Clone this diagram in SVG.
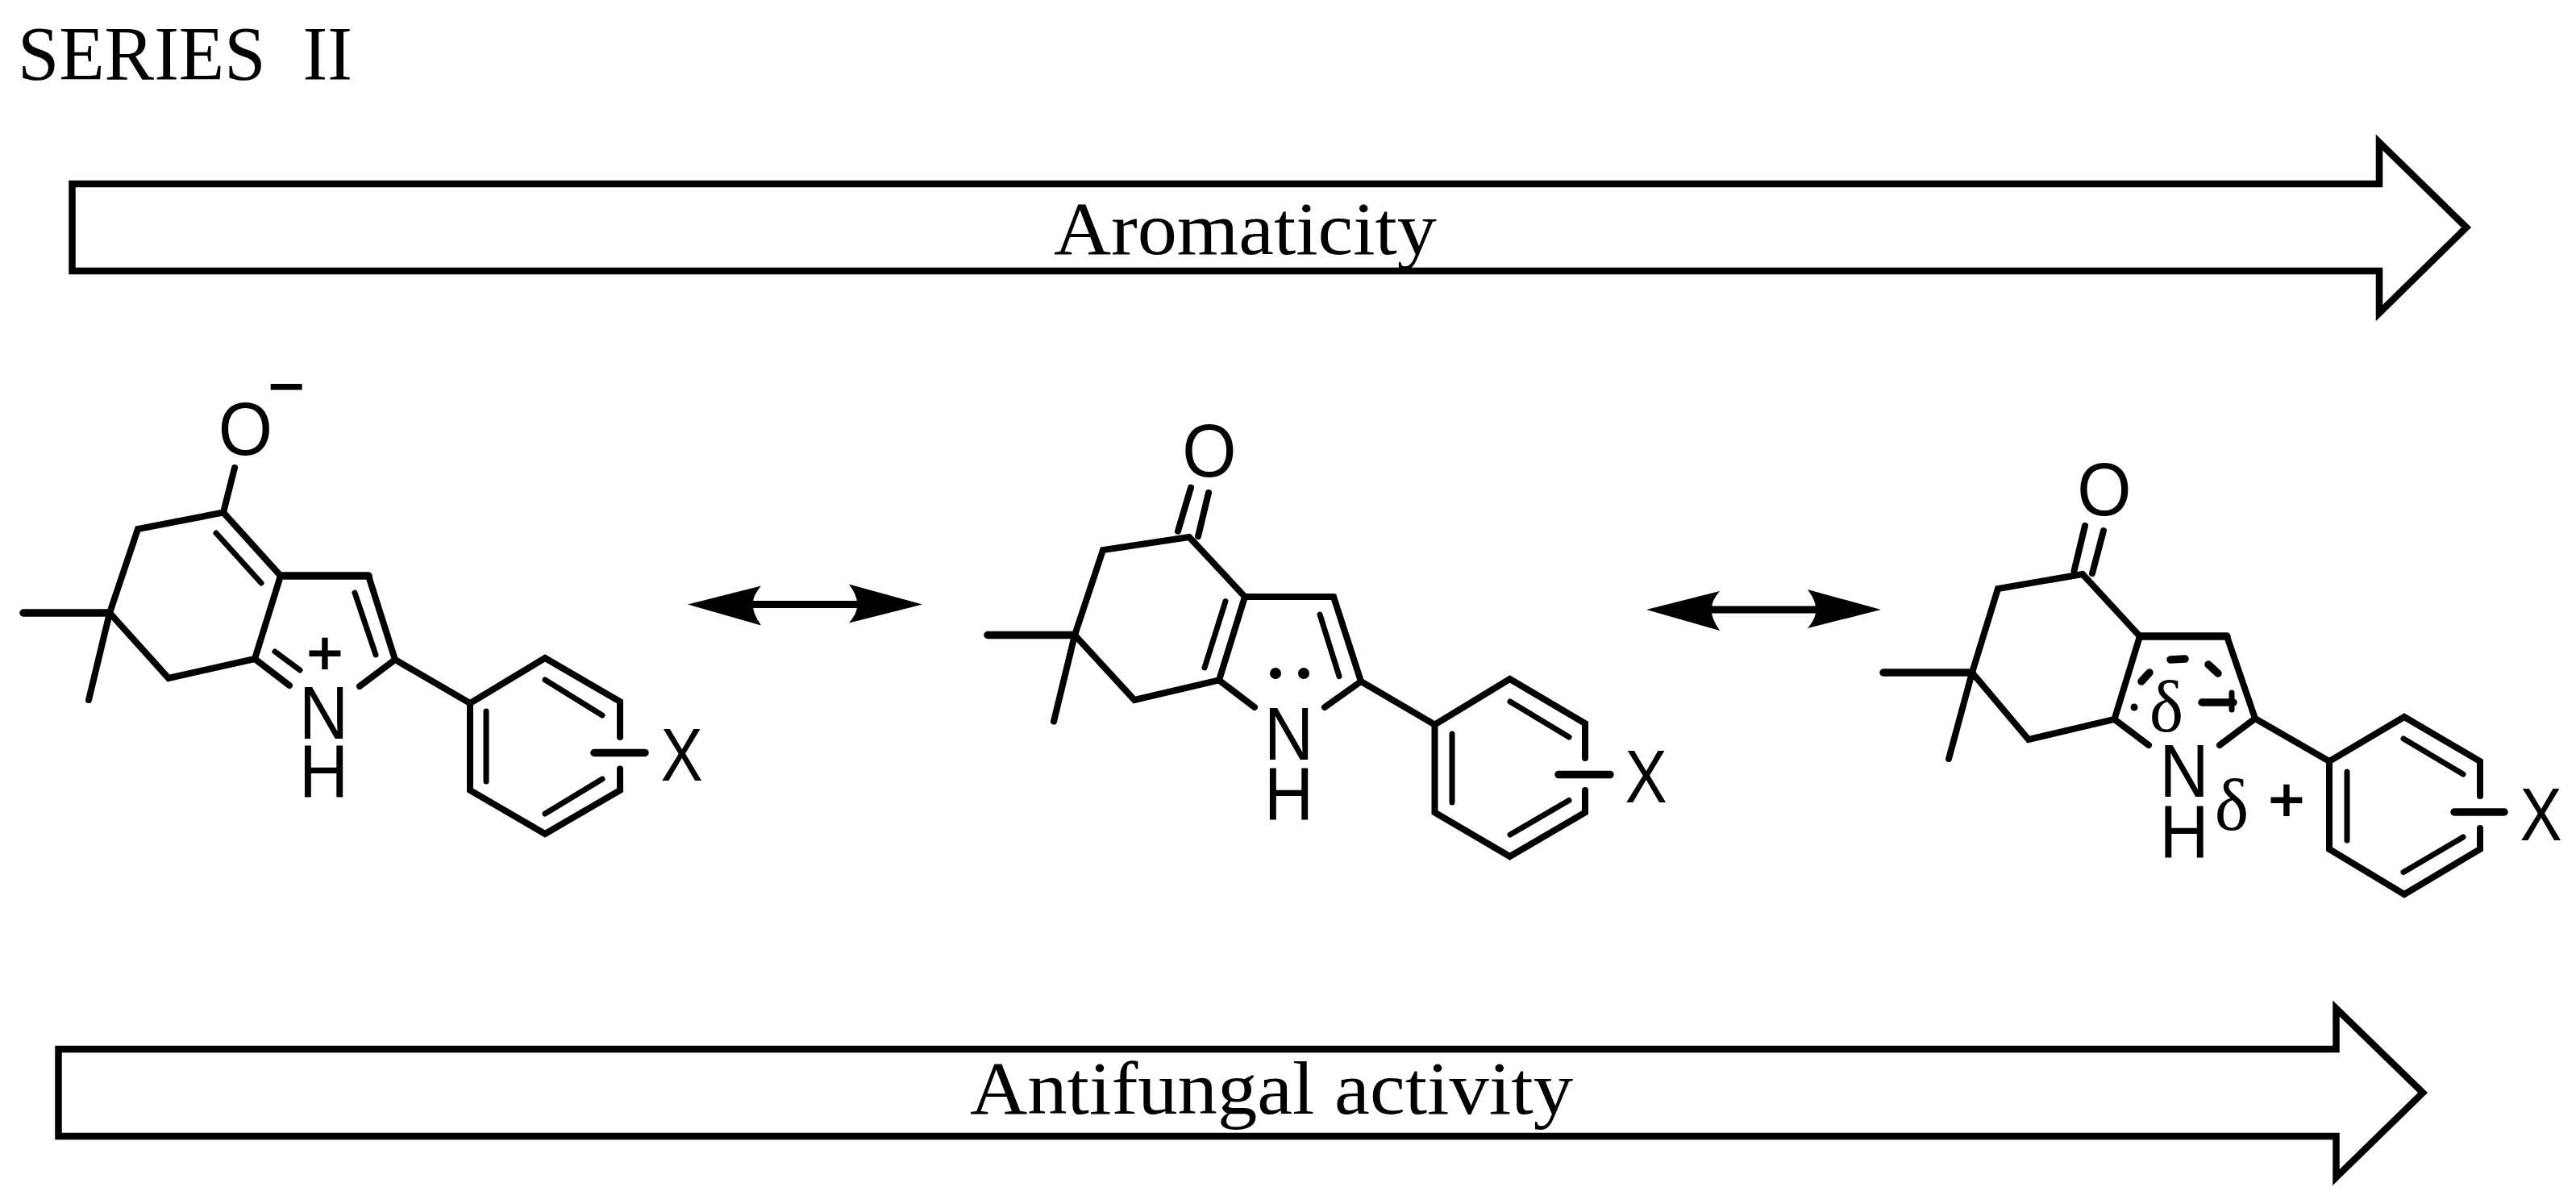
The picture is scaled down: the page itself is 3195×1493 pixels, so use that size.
<svg xmlns="http://www.w3.org/2000/svg" width="3195" height="1493" viewBox="0 0 3195 1493">
<style>
.bg{fill:#fff}
.block{fill:#fff;stroke:#000;stroke-width:8.5;stroke-linejoin:miter;stroke-miterlimit:10}
.b{fill:none;stroke:#000;stroke-width:8;stroke-linecap:round;stroke-linejoin:miter;stroke-miterlimit:4}
.h{fill:none;stroke:#000;stroke-width:9.500;stroke-linecap:round;stroke-linejoin:miter}
.i{fill:none;stroke:#000;stroke-width:7;stroke-linecap:round}
.serif{font-family:"Liberation Serif","Times New Roman",serif;fill:#000;white-space:pre}
.sans{font-family:"Liberation Sans",Arial,sans-serif;font-size:92px;fill:#000;text-anchor:middle}
.chg{font-family:"Liberation Sans",Arial,sans-serif;font-size:76px;fill:#000;stroke:#000;stroke-width:2;text-anchor:middle}
.d{font-family:"Liberation Serif","Times New Roman",serif;font-size:90px;fill:#000;text-anchor:middle}
.head{fill:#000}
.shaft{stroke:#000;stroke-width:9;fill:none}
</style>
<defs>
<g id="dbl">
<line class="shaft" x1="2120" y1="756" x2="2255" y2="756"/>
<path class="head" d="M2042 756L2133 733Q2122 746 2123 756Q2122 766 2133 782Z"/>
<path class="head" d="M2333 756L2242 731Q2253 746 2252 756Q2253 766 2242 779Z"/>
</g>
</defs>
<rect class="bg" width="3195" height="1493"/>
<text class="serif" id="title" x="22" y="99" font-size="96" textLength="415" lengthAdjust="spacingAndGlyphs">SERIES  II</text>
<g id="arrow-aromaticity">
<path class="block" d="M89.500 228H2951V176.500L3059 282L2951 388V336H89.500Z"/>
<text class="serif" x="1307" y="315" font-size="94" textLength="475" lengthAdjust="spacingAndGlyphs">Aromaticity</text>
</g>
<g id="arrow-antifungal">
<path class="block" d="M72.500 1301H2897.500V1250.500L3005 1355L2897.500 1460V1409H72.500Z"/>
<text class="serif" x="1203" y="1381" font-size="94" textLength="748" lengthAdjust="spacingAndGlyphs">Antifungal activity</text>
</g>
<g id="connectors">
<use href="#dbl" transform="translate(-1189 -6.500)"/>
<use href="#dbl"/>
</g>
<g id="structure-1">
<polyline class="b" points="291,580 277,635.500 171,656 136,760 209,841 316,817 348,714"/>
<polyline class="b" points="277,635.500 348,714"/>
<line class="h" x1="348" y1="714" x2="457" y2="714"/>
<polyline class="b" points="457,714 490,818 446,851"/>
<polyline class="b" points="316,817 359,850"/>
<line class="h" x1="29" y1="760" x2="136" y2="760"/>
<line class="b" x1="136" y1="760" x2="110" y2="868"/>
<line class="i" x1="268" y1="661" x2="324" y2="723"/>
<line class="i" x1="440" y1="735" x2="466" y2="812"/>
<line class="i" x1="341" y1="808" x2="372" y2="831"/>
<line class="b" x1="490" y1="818" x2="583" y2="872"/>
<polyline class="b" points="769,914 769,870 676,816 583,872 583,980 676,1034 769,980 769,953.500"/>
<line class="i" x1="603" y1="882" x2="603" y2="969"/>
<line class="i" x1="676" y1="843" x2="747" y2="887"/>
<line class="i" x1="676" y1="1009" x2="747" y2="966"/>
<line class="h" x1="737" y1="933.500" x2="800" y2="933.500"/>
<text class="sans" transform="translate(304.500 564) scale(.94 1)">O</text>
<text class="chg" x="355" y="505">−</text>
<text class="chg" x="403" y="836">+</text>
<text class="sans" transform="translate(401.500 916) scale(.92 1)">N</text>
<text class="sans" transform="translate(401.500 989) scale(.92 1)">H</text>
<text class="sans" transform="translate(845.500 968) scale(.85 1)">X</text>
</g>
<g id="structure-2">
<polyline class="b" points="1475,666 1368,682 1333,787.500 1407,868 1512,843.500 1544,740 1475,666"/>
<line class="b" x1="1544" y1="740" x2="1654" y2="740"/>
<polyline class="b" points="1654,740 1688,845 1643,877"/>
<line class="b" x1="1512" y1="843.500" x2="1556" y2="877"/>
<line class="h" x1="1225" y1="787.500" x2="1333" y2="787.500"/>
<line class="b" x1="1333" y1="787.500" x2="1307" y2="894.500"/>
<line class="b" x1="1461" y1="658.600" x2="1477" y2="604.700"/>
<line class="b" x1="1486" y1="665" x2="1499" y2="611"/>
<line class="i" x1="1520" y1="745.500" x2="1494" y2="828"/>
<line class="i" x1="1637" y1="762" x2="1661" y2="838.600"/>
<circle class="head" cx="1582" cy="835" r="7"/>
<circle class="head" cx="1617" cy="835" r="7"/>
<line class="b" x1="1688" y1="845" x2="1779.500" y2="898.600"/>
<polyline class="b" points="1966,940 1966,897 1872.600,842 1779.500,898.600 1779.500,1007.500 1872.600,1062 1966,1007.500 1966,980"/>
<line class="i" x1="1801" y1="910" x2="1801" y2="995"/>
<line class="i" x1="1873" y1="870" x2="1946" y2="914"/>
<line class="i" x1="1873" y1="1035" x2="1946" y2="992.500"/>
<line class="h" x1="1933" y1="960.600" x2="1997" y2="960.600"/>
<text class="sans" transform="translate(1500 591) scale(.94 1)">O</text>
<text class="sans" transform="translate(1598.500 942) scale(.92 1)">N</text>
<text class="sans" transform="translate(1598.500 1017) scale(.92 1)">H</text>
<text class="sans" transform="translate(2041.500 994.500) scale(.85 1)">X</text>
</g>
<g id="structure-3">
<polyline class="b" points="2583,712 2478,730 2446,834 2516,917 2622.500,892 2654,789 2583,712"/>
<line class="h" x1="2654" y1="789" x2="2762" y2="789"/>
<polyline class="b" points="2762,789 2797,891 2753,924"/>
<line class="b" x1="2622.500" y1="892" x2="2665" y2="924"/>
<line class="h" x1="2336" y1="834" x2="2446" y2="834"/>
<line class="b" x1="2446" y1="834" x2="2417" y2="941"/>
<line class="b" x1="2572.500" y1="708" x2="2586" y2="652"/>
<line class="b" x1="2595" y1="711" x2="2609" y2="658"/>
<line class="h" x1="2692" y1="818" x2="2710" y2="817"/>
<line class="h" x1="2739" y1="824" x2="2751" y2="835"/>
<line class="h" x1="2656" y1="845" x2="2666" y2="834"/>
<circle class="head" cx="2647" cy="877" r="4.500"/>
<line class="h" x1="2731" y1="871" x2="2770" y2="871"/>
<line class="i" x1="2768" y1="859" x2="2768" y2="880"/>
<line class="b" x1="2797" y1="891" x2="2889" y2="944"/>
<polyline class="b" points="3076,987 3076,944 2982,889 2889,944 2889,1053 2982,1109 3076,1053 3076,1027"/>
<line class="i" x1="2911" y1="957" x2="2911" y2="1042"/>
<line class="i" x1="2981" y1="916" x2="3055" y2="960"/>
<line class="i" x1="2981" y1="1081.500" x2="3055" y2="1038"/>
<line class="h" x1="3044" y1="1007" x2="3106" y2="1007"/>
<text class="sans" transform="translate(2610 639) scale(.94 1)">O</text>
<text class="sans" transform="translate(2709 988) scale(.92 1)">N</text>
<text class="sans" transform="translate(2709 1063.500) scale(.92 1)">H</text>
<text class="sans" transform="translate(3151.500 1042) scale(.85 1)">X</text>
<text class="d" x="2687" y="907">δ</text>
<text class="d" x="2768" y="1029">δ</text>
<text class="chg" x="2836" y="1018">+</text>
</g>
</svg>
